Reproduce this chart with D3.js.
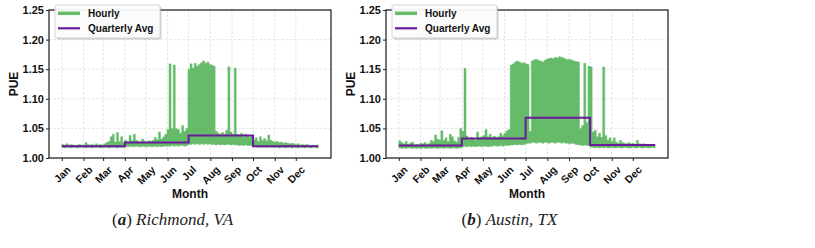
<!DOCTYPE html>
<html><head><meta charset="utf-8">
<script src="https://cdn.jsdelivr.net/npm/d3@7"></script>
<style>body{margin:0;background:#fff} svg{display:block}</style>
</head><body>
<svg id="c" width="815" height="248"></svg>
<script>
// ---------- data ----------
const months = ["Jan","Feb","Mar","Apr","May","Jun","Jul","Aug","Sep","Oct","Nov","Dec"];
const monthStartDays = [0,31,59,90,120,151,181,212,243,273,304,334];
const yTicks = [1.00,1.05,1.10,1.15,1.20,1.25];
const binDays = 3; // each value below summarises 3 days of hourly PUE (max / min)

const richmondHi = [
1.023,1.022,1.024,1.022,1.023,1.022,1.021,1.022,1.023,1.022,
1.022,1.026,1.023,1.022,1.023,1.022,1.024,1.022,1.023,1.022,
1.024,1.026,1.028,1.036,1.040,1.027,1.043,1.028,1.036,1.026,
1.030,1.027,1.038,1.029,1.040,1.030,1.028,1.027,1.032,1.028,
1.027,1.029,1.028,1.030,1.035,1.031,1.044,1.032,1.036,1.040,
1.048,1.159,1.050,1.157,1.050,1.048,1.042,1.055,1.045,1.050,
1.150,1.159,1.152,1.160,1.155,1.158,1.161,1.164,1.160,1.162,
1.158,1.157,1.155,1.045,1.042,1.040,1.043,1.040,1.047,1.154,
1.044,1.040,1.152,1.040,1.038,1.042,1.036,1.040,1.038,1.035,
1.037,1.030,1.034,1.028,1.036,1.030,1.033,1.029,1.039,1.030,
1.028,1.027,1.028,1.026,1.027,1.025,1.026,1.025,1.024,1.025,
1.024,1.023,1.024,1.022,1.023,1.022,1.023,1.022,1.021,1.022,
1.021,1.022];
const richmondLo = [
1.018,1.017,1.018,1.018,1.017,1.018,1.018,1.017,1.018,1.018,
1.018,1.017,1.018,1.018,1.017,1.018,1.018,1.018,1.017,1.018,
1.018,1.018,1.017,1.018,1.018,1.018,1.017,1.018,1.018,1.018,
1.019,1.019,1.020,1.019,1.019,1.020,1.019,1.019,1.020,1.019,
1.019,1.020,1.019,1.019,1.020,1.019,1.020,1.019,1.020,1.020,
1.020,1.020,1.021,1.020,1.021,1.020,1.021,1.021,1.020,1.021,
1.023,1.023,1.024,1.023,1.024,1.023,1.024,1.023,1.024,1.023,
1.024,1.023,1.023,1.022,1.023,1.022,1.023,1.022,1.023,1.023,
1.022,1.023,1.022,1.022,1.021,1.022,1.021,1.022,1.021,1.021,
1.021,1.019,1.019,1.018,1.019,1.018,1.019,1.018,1.019,1.018,
1.018,1.018,1.018,1.017,1.018,1.018,1.017,1.018,1.018,1.017,
1.018,1.018,1.017,1.018,1.018,1.017,1.018,1.018,1.017,1.018,
1.018,1.017];

const austinHi = [
1.029,1.026,1.024,1.028,1.023,1.025,1.027,1.022,1.023,1.022,
1.025,1.024,1.026,1.023,1.025,1.030,1.028,1.039,1.032,1.030,
1.046,1.030,1.034,1.028,1.040,1.036,1.029,1.027,1.035,1.050,
1.045,1.1515,1.037,1.031,1.035,1.033,1.030,1.044,1.034,1.036,
1.038,1.048,1.036,1.040,1.035,1.037,1.034,1.036,1.042,1.038,
1.042,1.046,1.048,1.157,1.159,1.162,1.164,1.162,1.160,1.161,
1.159,1.158,1.045,1.164,1.166,1.167,1.165,1.164,1.162,1.165,
1.167,1.168,1.169,1.168,1.170,1.169,1.171,1.170,1.169,1.167,
1.166,1.167,1.165,1.164,1.163,1.162,1.050,1.055,1.160,1.060,
1.155,1.154,1.044,1.047,1.036,1.042,1.035,1.154,1.038,1.030,
1.034,1.028,1.034,1.027,1.025,1.030,1.026,1.025,1.024,1.026,
1.024,1.025,1.023,1.030,1.024,1.023,1.024,1.022,1.023,1.022,
1.023,1.022];
const austinLo = [
1.017,1.016,1.017,1.016,1.017,1.017,1.016,1.017,1.016,1.017,
1.016,1.017,1.016,1.016,1.017,1.016,1.017,1.017,1.016,1.017,
1.017,1.016,1.017,1.017,1.016,1.017,1.017,1.016,1.017,1.017,
1.019,1.020,1.019,1.020,1.019,1.020,1.019,1.020,1.020,1.019,
1.020,1.020,1.019,1.020,1.020,1.021,1.020,1.020,1.021,1.020,
1.021,1.021,1.021,1.022,1.022,1.023,1.022,1.023,1.022,1.023,
1.024,1.025,1.025,1.026,1.026,1.025,1.026,1.026,1.025,1.026,
1.026,1.025,1.026,1.026,1.025,1.026,1.026,1.025,1.026,1.025,
1.025,1.024,1.025,1.024,1.023,1.022,1.022,1.021,1.022,1.021,
1.021,1.018,1.018,1.017,1.018,1.017,1.018,1.017,1.018,1.017,
1.017,1.018,1.017,1.017,1.018,1.017,1.017,1.018,1.017,1.017,
1.017,1.018,1.017,1.017,1.018,1.017,1.017,1.018,1.017,1.017,
1.018,1.017];

const quarterStartDays = [0,90,181,273];
const yearEndDay = 365;
const richmondQuarterly = [1.020,1.026,1.038,1.020];
const austinQuarterly   = [1.021,1.033,1.068,1.022];

const seriesNames = ["Hourly","Quarterly Avg"];
const panels = [
  {letter:"a", city:"Richmond, VA", hi:richmondHi, lo:richmondLo, q:richmondQuarterly, left:49},
  {letter:"b", city:"Austin, TX",   hi:austinHi,   lo:austinLo,   q:austinQuarterly,   left:386}
];

// ---------- drawing ----------
const GREEN = "#66bb6a", PURPLE = "#6a1b9a";
const W = 282, TOP = 10, BOTTOM = 158;
const SANS = "'Liberation Sans', Arial, Helvetica, sans-serif";
const svg = d3.select("#c");

panels.forEach(p => {
  const g = svg.append("g").attr("transform", `translate(${p.left},0)`);
  const span = yearEndDay;
  const x = d3.scaleLinear().domain([-0.05*span, span*1.05+1]).range([0, W]);
  const y = d3.scaleLinear().domain([1.0, 1.25]).range([BOTTOM, TOP]);

  // grid
  const grid = g.append("g").attr("stroke", "#dcdcdc").attr("stroke-width", 0.8).attr("stroke-dasharray", "2.5,1.8");
  grid.selectAll("line.v").data(monthStartDays).join("line").attr("class","v")
    .attr("x1", d => x(d)).attr("x2", d => x(d)).attr("y1", TOP).attr("y2", BOTTOM);
  grid.selectAll("line.h").data(yTicks).join("line").attr("class","h")
    .attr("x1", 0).attr("x2", W).attr("y1", d => y(d)).attr("y2", d => y(d));

  // hourly band
  const pts = p.hi.map((h, i) => ({d: i*binDays, hi: h, lo: p.lo[i]}));
  const last = pts[pts.length-1];
  pts.push({d: p.hi.length*binDays, hi: last.hi, lo: last.lo});
  g.append("path").datum(pts)
    .attr("fill", GREEN).attr("stroke", GREEN).attr("stroke-width", 0.4)
    .attr("d", d3.area().curve(d3.curveStepAfter).x(d => x(d.d)).y0(d => y(d.lo)).y1(d => y(d.hi)));

  // quarterly step
  const qp = p.q.map((v, i) => ({d: quarterStartDays[i], v}));
  qp.push({d: yearEndDay + 1, v: p.q[p.q.length-1]});
  g.append("path").datum(qp)
    .attr("fill", "none").attr("stroke", PURPLE).attr("stroke-width", 2)
    .attr("d", d3.line().curve(d3.curveStepAfter).x(d => x(d.d)).y(d => y(d.v)));

  // axes
  const xa = g.append("g").attr("transform", `translate(0,${BOTTOM})`)
    .call(d3.axisBottom(x).tickValues(monthStartDays).tickSize(3).tickFormat((d, i) => months[i]));
  const ya = g.append("g")
    .call(d3.axisLeft(y).tickValues(yTicks).tickSize(3).tickPadding(2).tickFormat(d3.format(".2f")));
  [xa, ya].forEach(a => {
    a.select(".domain").remove();
    a.selectAll(".tick line").attr("stroke", "#222");
    a.selectAll("text").attr("fill", "#111").style("font-family", SANS).style("font-weight", "bold");
  });
  ya.selectAll("text").style("font-size", "11px");
  xa.selectAll("text").style("font-size", "10.5px").each(function() {
    const t = d3.select(this);
    const w = this.getComputedTextLength();
    const cy = 6 + (w + 11) / (2*Math.SQRT2);
    t.attr("x", 0).attr("y", 0).attr("dy", "0.35em").attr("text-anchor", "middle")
     .attr("transform", `translate(0,${cy}) rotate(-45)`);
  });

  // frame
  g.append("rect").attr("x", 0).attr("y", TOP).attr("width", W).attr("height", BOTTOM-TOP)
    .attr("fill", "none").attr("stroke", "#222").attr("stroke-width", 1.25);

  // axis titles
  g.append("text").attr("transform", `translate(-35.5,${(TOP+BOTTOM)/2}) rotate(-90)`)
    .attr("text-anchor", "middle").attr("dy", "0.35em")
    .style("font-family", SANS).style("font-weight", "bold").style("font-size", "12px").attr("fill", "#111")
    .text("PUE");
  g.append("text").attr("x", 141).attr("y", 198).attr("text-anchor", "middle")
    .style("font-family", SANS).style("font-weight", "bold").style("font-size", "12px").attr("fill", "#111")
    .text("Month");

  // legend
  const lg = g.append("g").attr("transform", "translate(6,5)");
  lg.append("rect").attr("x", 1.5).attr("y", 1.5).attr("width", 105).attr("height", 33).attr("rx", 2)
    .attr("fill", "#999").attr("opacity", 0.45);
  lg.append("rect").attr("x", 0).attr("y", 0).attr("width", 105).attr("height", 33).attr("rx", 2)
    .attr("fill", "#fff").attr("fill-opacity", 0.9).attr("stroke", "#cfcfcf").attr("stroke-width", 0.9);
  const items = [{name: seriesNames[0], color: GREEN, w: 3.5}, {name: seriesNames[1], color: PURPLE, w: 2.2}];
  items.forEach((it, i) => {
    const yy = 8.3 + i*15;
    lg.append("line").attr("x1", 3).attr("x2", 25).attr("y1", yy).attr("y2", yy)
      .attr("stroke", it.color).attr("stroke-width", it.w);
    lg.append("text").attr("x", 33).attr("y", yy).attr("dy", "0.35em")
      .style("font-family", SANS).style("font-weight", "bold").style("font-size", "10px").attr("fill", "#111")
      .text(it.name);
  });

  // caption
  const cap = svg.append("text").attr("x", p.left + 123.5).attr("y", 225).attr("text-anchor", "middle")
    .style("font-family", "'Liberation Serif', 'DejaVu Serif', serif").style("font-size", "17px").attr("fill", "#222");
  cap.append("tspan").text("(");
  cap.append("tspan").style("font-style", "italic").style("font-weight", "bold").text(p.letter);
  cap.append("tspan").text(") ");
  cap.append("tspan").style("font-style", "italic").text(p.city);
});
</script>
</body></html>
